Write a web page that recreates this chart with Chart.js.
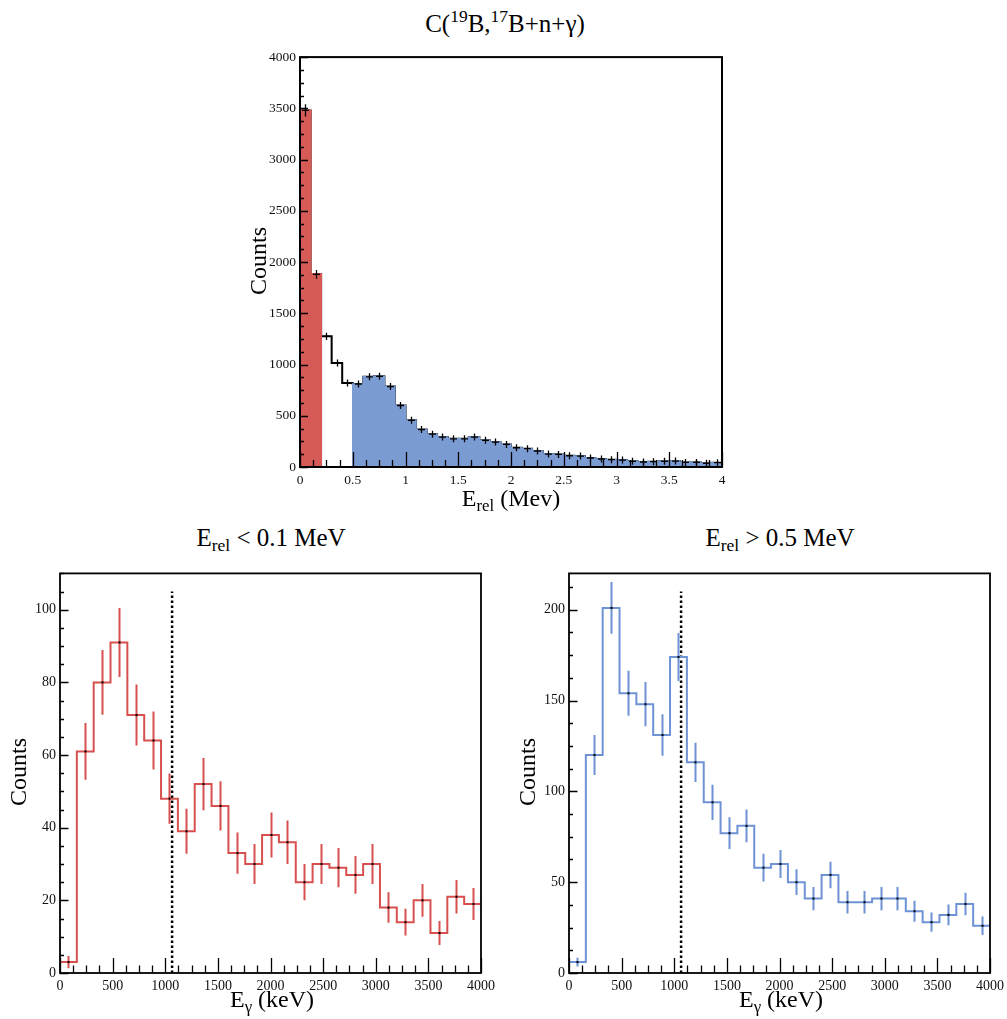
<!DOCTYPE html>
<html><head><meta charset="utf-8">
<script src="https://cdn.jsdelivr.net/npm/chart.js@4.4.0/dist/chart.umd.min.js"></script>
<style>
html,body{margin:0;padding:0;background:#fff;overflow:hidden;width:1007px;height:1019px;}
canvas{position:absolute;}
.t{position:absolute;font-family:"Liberation Serif","Times New Roman",serif;color:#000;white-space:nowrap;line-height:1;transform:translate(-50%,-50%);z-index:5;}
.r{transform:translate(-50%,-50%) rotate(-90deg);}
sub,sup{font-size:70%;line-height:0;}
sub{vertical-align:-0.3em;}
sup{vertical-align:0.55em;}
</style></head><body>
<canvas id="cTop" width="500" height="445" style="left:240px;top:45px"></canvas>
<canvas id="cLow" width="500" height="440" style="left:0px;top:561px"></canvas>
<canvas id="cHigh" width="500" height="440" style="left:509px;top:561px"></canvas>

<div class="t" style="left:505px;top:23px;font-size:25px">C(<sup>19</sup>B,<sup>17</sup>B+n+γ)</div>
<div class="t r" style="left:258px;top:261px;font-size:24px">Counts</div>
<div class="t" style="left:511px;top:498px;font-size:24px">E<sub>rel</sub> (Mev)</div>

<div class="t" style="left:271px;top:537px;font-size:25px">E<sub>rel</sub> &lt; 0.1 MeV</div>
<div class="t r" style="left:18px;top:772px;font-size:24px">Counts</div>
<div class="t" style="left:272px;top:999px;font-size:24px">E<sub>γ</sub> (keV)</div>

<div class="t" style="left:780px;top:537px;font-size:25px">E<sub>rel</sub> &gt; 0.5 MeV</div>
<div class="t r" style="left:527px;top:772px;font-size:24px">Counts</div>
<div class="t" style="left:781px;top:999px;font-size:24px">E<sub>γ</sub> (keV)</div>

<script>
// ---------------- data ----------------
const erelEdges = [0,0.1,0.2,0.3,0.4,0.5,0.6,0.7,0.8,0.9,1.0,1.1,1.2,1.3,1.4,1.5,1.6,1.7,1.8,1.9,2.0,
                   2.1,2.2,2.3,2.4,2.5,2.6,2.7,2.8,2.9,3.0,3.1,3.2,3.3,3.4,3.5,3.6,3.7,3.8,3.9,4.0];
const erelCounts = [3480,1880,1275,1015,820,810,880,885,785,600,455,365,320,292,275,275,292,260,243,220,
                    188,179,156,126,123,110,107,88,78,71,68,55,49,52,55,58,45,45,36,42];
const erelErrors = [59,43,36,32,29,28,30,30,28,24,21,19,18,17,17,17,17,16,16,15,
                    14,13,12,11,11,10,10,9,9,8,8,7,7,7,7,8,7,7,6,6];
const redGateMax = 0.2;   // red shaded E_rel region upper edge (MeV)
const blueGateMin = 0.5;  // blue shaded E_rel region lower edge (MeV)

const egEdges = [0,160,320,480,640,800,960,1120,1280,1440,1600,1760,1920,2080,2240,2400,
                 2560,2720,2880,3040,3200,3360,3520,3680,3840,4000];
const egLowCounts  = [3,61,80,91,71,64,48,39,52,46,33,30,38,36,25,30,29,27,30,18,14,20,11,21,19];
const egLowErrors  = [1.7,7.8,8.9,9.5,8.4,8.0,6.9,6.2,7.2,6.8,5.7,5.5,6.2,6.0,5.0,5.5,5.4,5.2,5.5,4.2,3.7,4.5,3.3,4.6,4.4];
const egHighCounts = [6,120,201,154,148,131,174,116,94,77,81,58,60,50,41,54,39,39,41,41,34,28,32,38,26];
const egHighErrors = [2.4,11.0,14.2,12.4,12.2,11.4,13.2,10.8,9.7,8.8,9.0,7.6,7.7,7.1,6.4,7.3,6.2,6.2,6.4,6.4,5.8,5.3,5.7,6.2,5.1];

const gammaMarker = 1065;       // dotted line position (keV)
const gammaMarkerTopLow = 105;  // dotted line top, left panel
const gammaMarkerTopHigh = 210; // dotted line top, right panel

// tick labels (major) and minor tick spacing
const erelXMajor = [0,0.5,1,1.5,2,2.5,3,3.5,4];
const erelYMajor = [0,500,1000,1500,2000,2500,3000,3500,4000];
const egXMajor   = [0,500,1000,1500,2000,2500,3000,3500,4000];
const egLowYMajor  = [0,20,40,60,80,100];
const egHighYMajor = [0,50,100,150,200];

// ---------------- styling ----------------
const SERIF = '"Liberation Serif","Times New Roman",serif';
const RED_FILL = '#d65a55';
const BLUE_FILL = '#7b9bd3';
const RED_LINE = '#d8504e';
const BLUE_LINE = '#6d92d6';

function stepPoints(edges, vals){
  const pts = vals.map((v,i)=>({x:edges[i], y:v}));
  pts.push({x:edges[edges.length-1], y:vals[vals.length-1]});
  return pts;
}
function isMajor(v, majors){ return majors.some(m=>Math.abs(m-v)<1e-6); }
function fmt(v){ return String(+(+v).toFixed(4)); }
function tickList(min,max,step){ const a=[]; for(let i=0;;i++){ const v=+(min+i*step).toFixed(6); if(v>max+1e-9) break; a.push({value:v}); } return a; }

function axis(min,max,minor,majors,size,fitKey,fitVal,pad){
  return {
    type:'linear', min:min, max:max,
    grid:{display:false, drawTicks:false},
    border:{display:false},
    afterBuildTicks:(s)=>{ s.ticks = tickList(min,max,minor); },
    afterFit:(s)=>{ s[fitKey]=fitVal; },
    ticks:{autoSkip:false, maxRotation:0, minRotation:0, padding:pad, color:'#111',
           font:{family:SERIF, size:size},
           callback:(v)=> isMajor(v,majors)?fmt(v):''}
  };
}

function decorPlugin(o){
  return {
    id:'decor_'+Math.random().toString(36).slice(2),
    afterDatasetsDraw(chart){
      const {ctx, chartArea:a, scales:{x,y}} = chart;
      ctx.save();
      if(o.err){
        ctx.beginPath(); ctx.rect(a.left,a.top,a.right-a.left,a.bottom-a.top); ctx.clip();
        const e=o.err;
        for(let i=0;i<e.vals.length;i++){
          const cx = Math.round(x.getPixelForValue((e.edges[i]+e.edges[i+1])/2))+0.5;
          const cy = y.getPixelForValue(e.vals[i]);
          const yt = y.getPixelForValue(e.vals[i]+e.errs[i]);
          const yb = y.getPixelForValue(Math.max(0,e.vals[i]-e.errs[i]));
          ctx.strokeStyle=e.color; ctx.lineWidth=e.width;
          ctx.beginPath();
          ctx.moveTo(cx, Math.min(yt, cy-e.cross)); ctx.lineTo(cx, Math.max(yb, cy+e.cross));
          if(e.cross>0){ ctx.moveTo(cx-e.cross, cy); ctx.lineTo(cx+e.cross, cy); }
          ctx.stroke();
          if(e.dot){ ctx.fillStyle='#000'; ctx.fillRect(cx-1, cy-1, 2, 2); }
        }
        ctx.restore(); ctx.save();
      }
      ctx.strokeStyle='#000'; ctx.lineWidth=1.3;
      ctx.beginPath();
      x.ticks.forEach(t=>{
        const px = Math.round(x.getPixelForValue(t.value))+0.5;
        const L = isMajor(t.value,o.xMajor)?o.xMajLen:o.xMinLen;
        ctx.moveTo(px,a.bottom); ctx.lineTo(px,a.bottom-L);
      });
      y.ticks.forEach(t=>{
        const py = Math.round(y.getPixelForValue(t.value))+0.5;
        const L = isMajor(t.value,o.yMajor)?o.yMajLen:o.yMinLen;
        ctx.moveTo(a.left,py); ctx.lineTo(a.left+L,py);
      });
      ctx.stroke();
      ctx.lineWidth=o.frame; ctx.strokeStyle='#000';
      ctx.strokeRect(a.left, a.top, a.right-a.left, a.bottom-a.top);
      ctx.restore();
    }
  };
}

const baseOpts = (xs, ys, padR) => ({
  responsive:false, animation:false, devicePixelRatio:1,
  layout:{padding:{left:0, top:10, right:padR, bottom:0}},
  plugins:{legend:{display:false}, tooltip:{enabled:false}, title:{display:false}},
  elements:{point:{radius:0}, line:{tension:0, borderJoinStyle:'miter', borderCapStyle:'butt'}},
  scales:{x:xs, y:ys}
});

// ---------------- top chart ----------------
const redVals  = erelCounts.map((v,i)=> erelEdges[i+1] <= redGateMax+1e-9 ? v : 0);
const blueVals = erelCounts.map((v,i)=> erelEdges[i] >= blueGateMin-1e-9 ? v : 0);

new Chart(document.getElementById('cTop'), {
  type:'line',
  data:{datasets:[
    {data:stepPoints(erelEdges, blueVals), stepped:'before', borderColor:BLUE_FILL, borderWidth:1.5, backgroundColor:BLUE_FILL, fill:'origin'},
    {data:stepPoints(erelEdges, redVals), stepped:'before', borderColor:RED_FILL, borderWidth:2, backgroundColor:RED_FILL, fill:'origin'},
    {data:stepPoints(erelEdges, erelCounts), stepped:'before', borderColor:'#000', borderWidth:2, fill:false}
  ]},
  options: baseOpts(
    axis(0,4,0.125,erelXMajor,13.5,'height',23,5),
    axis(0,4000,125,erelYMajor,13.5,'width',60,4),
    18),
  plugins:[decorPlugin({
    err:{edges:erelEdges, vals:erelCounts, errs:erelErrors, color:'#000', width:1.3, cross:3.5, dot:false},
    xMajor:erelXMajor, yMajor:erelYMajor, xMajLen:15, xMinLen:7, yMajLen:8, yMinLen:4, frame:2
  })]
});

// ---------------- bottom charts ----------------
function gammaChart(id, counts, errs, color, ymax, yminor, ymajors, markerTop){
  new Chart(document.getElementById(id), {
    type:'line',
    data:{datasets:[
      {data:stepPoints(egEdges, counts), stepped:'before', borderColor:color, borderWidth:2, fill:false},
      {data:[{x:gammaMarker,y:0},{x:gammaMarker,y:markerTop}], borderColor:'#000', borderWidth:2.5, borderDash:[2.5,2.5], fill:false}
    ]},
    options: baseOpts(
      axis(0,4000,125,egXMajor,14,'height',28,5),
      axis(0,ymax,yminor,ymajors,14,'width',60,4),
      16),
    plugins:[decorPlugin({
      err:{edges:egEdges, vals:counts, errs:errs, color:color, width:2, cross:0, dot:true},
      xMajor:egXMajor, yMajor:ymajors, xMajLen:15, xMinLen:7.5, yMajLen:8.5, yMinLen:4, frame:1.8
    })]
  });
}
gammaChart('cLow', egLowCounts, egLowErrors, RED_LINE, 110, 5, egLowYMajor, gammaMarkerTopLow);
gammaChart('cHigh', egHighCounts, egHighErrors, BLUE_LINE, 220, 12.5, egHighYMajor, gammaMarkerTopHigh);
</script>
</body></html>
